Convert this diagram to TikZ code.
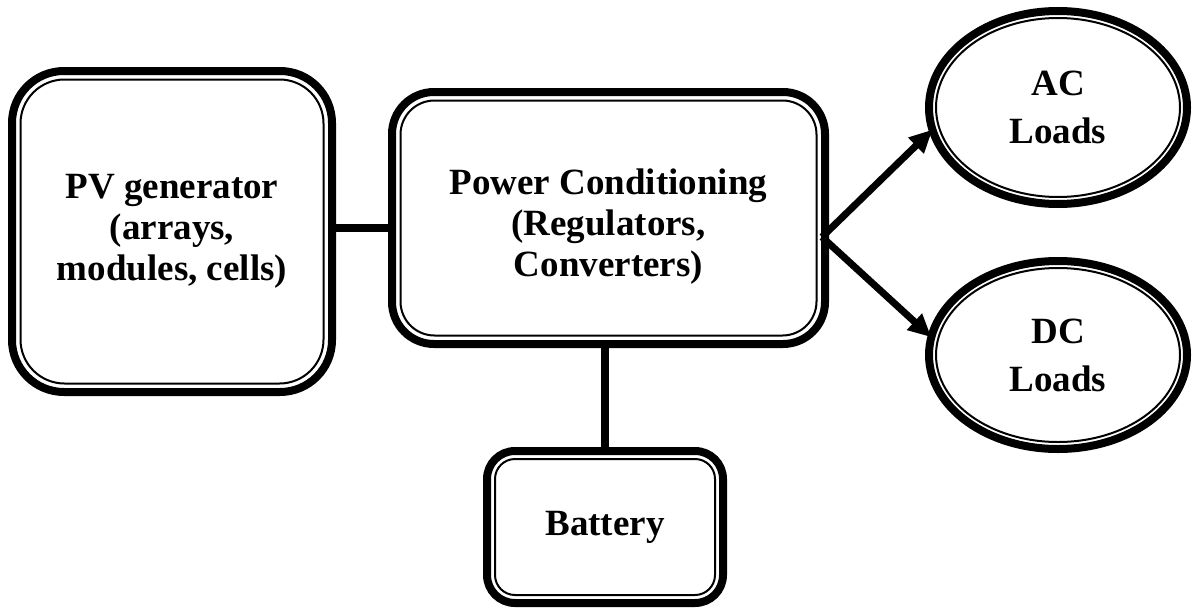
\documentclass[tikz,border=0pt]{standalone}
\usepackage{fontspec}
\setmainfont{Liberation Serif}
\usetikzlibrary{shapes.geometric,calc,arrows.meta}
\tikzset{
  thickb/.style={draw, line width=8pt},
  thinb/.style={draw, line width=2pt},
  txt/.style={align=center, font=\bfseries\fontsize{37}{41}\selectfont, inner sep=0pt, outer sep=0pt},
  rbox/.style={txt, thickb, rectangle, rounded corners=#1},
  lbox/.style={thickb, ellipse, inner sep=0pt, outer sep=0pt, minimum width=258pt, align=center, font=\bfseries\fontsize{37}{48}\selectfont},
  conn/.style={line width=8pt},
  arr/.style={line width=7pt, -{Triangle[length=23pt,width=21pt]}}
}
\begin{document}
\begin{tikzpicture}[x=1pt,y=-1pt]
\useasboundingbox (0,0) rectangle (1193,610);
% boxes
\node[rbox=52, minimum width=320pt, minimum height=321pt] (pv) at (172,231.5) {PV generator\\(arrays,\\modules, cells)};
\node[rbox=42, minimum width=433pt, minimum height=252pt] (pw) at (608.5,218) {};
\node[txt] (pwt) at (608.5,227) {Power Conditioning\\(Regulators,\\Converters)};
\node[rbox=28, minimum width=236pt, minimum height=152pt] (bat) at (605,527) {Battery};
\node[lbox, minimum height=193pt] (ac) at (1058,107.5) {AC\\Loads};
\node[lbox, minimum height=188pt] (dc) at (1058,355) {DC\\Loads};
% inner thin borders
\draw[thinb, rounded corners=44] ($(pv.north west)+(8.5,8.5)$) rectangle ($(pv.south east)+(-8.5,-8.5)$);
\draw[thinb, rounded corners=34] ($(pw.north west)+(8.5,8.5)$) rectangle ($(pw.south east)+(-8.5,-8.5)$);
\draw[thinb, rounded corners=20] ($(bat.north west)+(8,8)$) rectangle ($(bat.south east)+(-8,-8)$);
\draw[thinb] (ac.center) ellipse (122 and 89.5);
\draw[thinb] (dc.center) ellipse (122 and 87);
% connectors
\coordinate (hc) at ($(pw.west)+(0,10)$);
\draw[conn] (hc -| pv.east) -- (hc);
\draw[conn] (bat.north) -- (bat.north |- pw.south);
\coordinate (fork) at ($(pw.east)+(-3,19)$);
\draw[arr] (fork) -- (ac.190);
\draw[arr] (fork) -- (dc.172);
\end{tikzpicture}
\end{document}
